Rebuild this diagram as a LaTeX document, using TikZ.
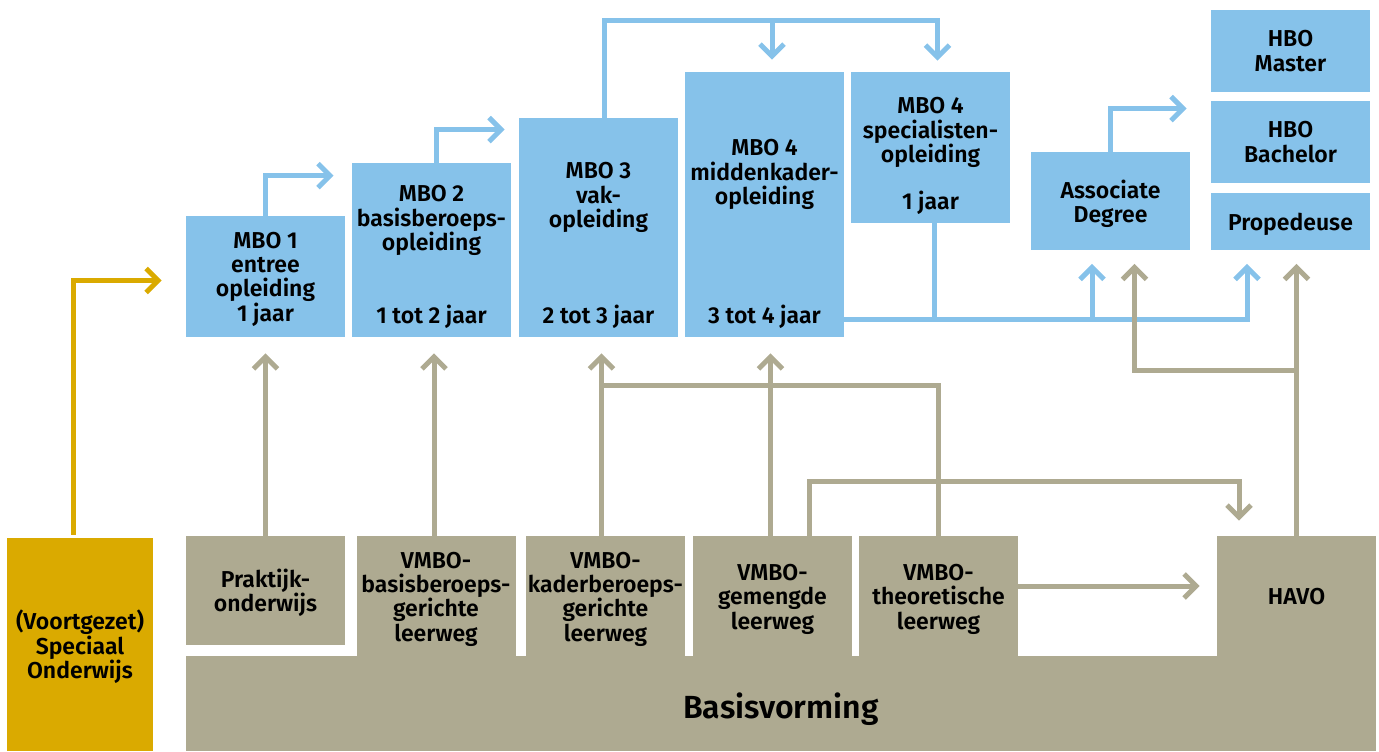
\documentclass[tikz,border=0pt]{standalone}
\usepackage{fontspec}
\setmainfont{Fira Sans}[BoldFont={Fira Sans SemiBold}]
\usetikzlibrary{arrows.meta}
\definecolor{colblauw}{RGB}{134,194,234}
\definecolor{colgrijs}{RGB}{174,170,145}
\definecolor{colgeel}{RGB}{218,170,0}
\tikzset{
	>={Straight Barb[length=6pt,width=12pt]},
	vak/.style={rectangle, inner sep=0pt, minimum width=79.5pt, align=center, text depth=0pt, font=\bfseries\fontsize{11.5}{12.2}\selectfont},
	blauwvak/.style={vak, fill=colblauw},
	grijsvak/.style={vak, fill=colgrijs},
	tekst/.style={inner sep=0pt, align=center, font=\bfseries\fontsize{11.5}{12.2}\selectfont},
	duur/.style={tekst, anchor=base},
	lijn/.style={line width=2.5pt},
	blauwlijn/.style={lijn, colblauw},
	blauwpijl/.style={->, lijn, colblauw},
	grijslijn/.style={lijn, colgrijs},
	grijspijl/.style={->, lijn, colgrijs},
	geelpijl/.style={->, lijn, colgeel}
}
\begin{document}
\begin{tikzpicture}[x=0.5pt, y=-0.5pt]
	\useasboundingbox (0,0) rectangle (1379,751);
	% onderbouw
	\node[grijsvak, minimum width=595pt, minimum height=47.5pt, text height=14.5pt, font=\bfseries\fontsize{16}{18}\selectfont] (basis) at (781,703.5) {Basisvorming};
	\node[vak, fill=colgeel, minimum width=73pt, minimum height=106.5pt] (vso) at (80,644.5) {(Voortgezet)\\Speciaal\\Onderwijs};
	\node[grijsvak, minimum height=54.5pt] (praktijk) at (265.5,590.5) {Praktijk-\\onderwijs};
	\foreach \naam/\x/\tekst in {vmbob/436/{VMBO-\\basisberoeps-\\gerichte\\leerweg},
		vmbok/605.5/{VMBO-\\kaderberoeps-\\gerichte\\leerweg},
		vmbog/772.5/{VMBO-\\gemengde\\leerweg},
		vmbot/938.5/{VMBO-\\theoretische\\leerweg},
		havo/1296.5/{HAVO}} {
		\node[grijsvak, minimum height=60.5pt] (\naam) at (\x,596.5) {\tekst};
	}
	% mbo
	\node[blauwvak, minimum height=60.5pt] (mboone) at (265.5,276.5) {MBO 1\\entree\\opleiding\\1 jaar};
	\node[blauwvak, minimum height=87pt] (mbotwo) at (431.5,250) {};
	\node[blauwvak, minimum height=109.5pt] (mbothree) at (598.5,227.5) {};
	\node[blauwvak, minimum height=132.5pt] (mbofourm) at (764.5,204.5) {};
	\node[blauwvak, minimum height=75.5pt] (mbofours) at (930.5,147.5) {};
	\node[tekst, anchor=north] (mbotwo-titel) at (431.5,185) {MBO 2\\basisberoeps-\\opleiding};
	\node[tekst, anchor=north] (mbothree-titel) at (598.5,162) {MBO 3\\vak-\\opleiding};
	\node[tekst, anchor=north] (mbofourm-titel) at (764.5,139) {MBO 4\\middenkader-\\opleiding};
	\node[tekst, anchor=north] (mbofours-titel) at (930.5,97) {MBO 4\\specialisten-\\opleiding};
	\node[duur] (mbotwo-duur) at ([yshift=7pt]mbotwo.south) {1 tot 2 jaar};
	\node[duur] (mbothree-duur) at ([yshift=7pt]mbothree.south) {2 tot 3 jaar};
	\node[duur] (mbofourm-duur) at ([yshift=7pt]mbofourm.south) {3 tot 4 jaar};
	\node[duur] (mbofours-duur) at ([yshift=7pt]mbofours.south) {1 jaar};
	% hbo
	\node[blauwvak, minimum height=49pt] (ad) at (1110.5,201) {Associate\\Degree};
	\node[blauwvak, minimum height=41pt] (master) at (1290.5,51) {HBO\\Master};
	\node[blauwvak, minimum height=41pt] (bachelor) at (1290.5,142) {HBO\\Bachelor};
	\node[blauwvak, minimum height=28.5pt] (prop) at (1290.5,221.5) {Propedeuse};
	% doorstroom mbo/hbo
	\draw[geelpijl] ([shift={(-7,-3)}]vso.north) |- ([shift={(-24,4)}]mboone.west);
	\draw[blauwpijl] (mboone.north) |- ([shift={(-18,13)}]mbotwo.north west);
	\draw[blauwpijl] ([xshift=2.5pt]mbotwo.north) |- ([shift={(-14,12)}]mbothree.north west);
	\draw[blauwpijl] ([xshift=3pt]mbothree.north) |- ([shift={(7,-51)}]mbofours.north) -- ([shift={(7,-11)}]mbofours.north);
	\draw[blauwpijl] ([shift={(7.5,-51)}]mbofourm.north) -- ([shift={(7.5,-12)}]mbofourm.north);
	\coordinate (blauwrij) at ([yshift=9pt]mbofourm.south east);
	\draw[blauwpijl] (blauwrij) -| ([shift={(-43.5,13.5)}]prop.south);
	\draw[blauwlijn] ([xshift=1.75pt]mbofours.south) -- ([xshift=1.75pt]mbofours.south |- blauwrij);
	\draw[blauwpijl] ([xshift=-9.25pt]ad.south |- blauwrij) -- ([shift={(-18.5,13.5)}]ad.south);
	\draw[blauwpijl] (ad.north) |- ([shift={(-24,8)}]bachelor.north west);
	% doorstroom vo
	\coordinate (grijsrij) at ([yshift=-24pt]mbothree.south);
	\draw[grijspijl] (praktijk.north) -- ([yshift=-8pt]mboone.south);
	\draw[grijspijl] ([xshift=-1pt]vmbob.north) -- ([shift={(-2,16)}]vmbob.north |- mbotwo.south);
	\draw[grijspijl] ([xshift=-2pt]vmbok.north) -- ([shift={(-4,16)}]vmbok.north |- mbothree.south);
	\draw[grijslijn] (vmbot.north) |- ([xshift=-2pt]vmbok.north |- grijsrij);
	\draw[grijspijl] ([xshift=-1pt]vmbog.north) -- ([shift={(-2,16)}]vmbog.north |- mbofourm.south);
	\draw[grijspijl] ([xshift=18.5pt]vmbog.north) |- ([shift={(-57.5,-54.5)}]havo.north) -- ([shift={(-57.5,-15)}]havo.north);
	\draw[grijspijl] ([yshift=5.25pt]vmbot.east) -- ([shift={(-17,-10.5)}]havo.west);
	\draw[grijspijl] (havo.north) -- ([yshift=-6.75pt]havo.north |- prop.south);
	\draw[grijspijl] ([yshift=-60pt]havo.north |- prop.south) -| ([shift={(24,13.5)}]ad.south);
\end{tikzpicture}
\end{document}
